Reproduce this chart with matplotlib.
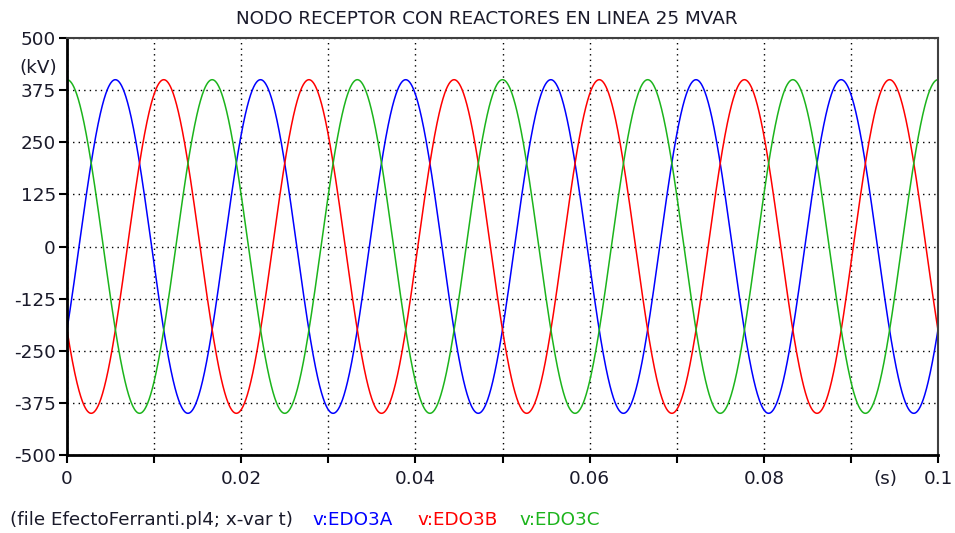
#!/usr/bin/env python3
# -*- coding: utf-8 -*-
import matplotlib
matplotlib.use("Agg")
import matplotlib.pyplot as plt
import numpy as np

# --- datos ---
series_names = ["v:EDO3A", "v:EDO3B", "v:EDO3C"]
series_colors = ["#0000ff", "#ff0000", "#1cb41c"]
amplitude_kv = [400, 400, 400]          # pico de cada fase
peak_time_s = [0.00555, 0.01111, 0.0]   # instante del primer maximo
freq_hz = 60
t_end = 0.1

x_ticks = [0, 0.02, 0.04, 0.06, 0.08, 0.1]
x_tick_labels = ["0", "0.02", "0.04", "0.06", "0.08", "0.1"]
y_ticks = [-500, -375, -250, -125, 0, 125, 250, 375, 500]

title = "NODO RECEPTOR CON REACTORES EN LINEA 25 MVAR"
footer = "(file EfectoFerranti.pl4; x-var t)"

plt.rcParams['font.family'] = ['DejaVu Sans']
plt.rcParams['axes.unicode_minus'] = False
fs = 13.2
txt_col = '#1a1a2a'

fig = plt.figure(figsize=(9.55, 5.33), dpi=100)
ax = fig.add_axes([67 / 955, 1 - 455 / 533, (938 - 67) / 955, (455 - 38) / 533])

t = np.linspace(0, t_end, 4000)
for amp, tp, col in zip(amplitude_kv, peak_time_s, series_colors):
    v = amp * np.cos(2 * np.pi * freq_hz * (t - tp))
    ax.plot(t, v, color=col, lw=1.1)

ax.set_xlim(0, t_end)
ax.set_ylim(-500, 500)
ax.set_xticks(x_ticks)
ax.set_xticklabels(x_tick_labels)
ax.set_xticks(np.arange(0.01, 0.1, 0.02), minor=True)
ax.set_yticks(y_ticks)
ax.grid(True, which='both', color='black', linestyle=(0, (1, 3)), lw=1.0)

ax.tick_params(axis='both', which='both', direction='out', length=6, width=1.5,
               labelsize=fs, colors='black', labelcolor=txt_col)
ax.tick_params(axis='x', pad=5)
ax.tick_params(axis='y', pad=2)

for s in ['left', 'bottom']:
    ax.spines[s].set_linewidth(2)
    ax.spines[s].set_color('black')
for s in ['top', 'right']:
    ax.spines[s].set_linewidth(1.5)
    ax.spines[s].set_color('#404040')

fig.text(487 / 955, 1 - 19 / 533, title, ha='center', va='center', fontsize=fs, color=txt_col)
fig.text(38 / 955, 1 - 68 / 533, "(kV)", ha='center', va='center', fontsize=fs, color=txt_col)
fig.text(885 / 955, 1 - 479 / 533, "(s)", ha='center', va='center', fontsize=fs, color=txt_col)

fig.text(10 / 955, 1 - 520 / 533, footer, ha='left', va='center', fontsize=fs, color=txt_col)
for name, col, xp in zip(series_names, series_colors, [312, 417, 519]):
    fig.text(xp / 955, 1 - 520 / 533, name, ha='left', va='center', fontsize=fs, color=col)

fig.savefig("out.png", dpi=100)
